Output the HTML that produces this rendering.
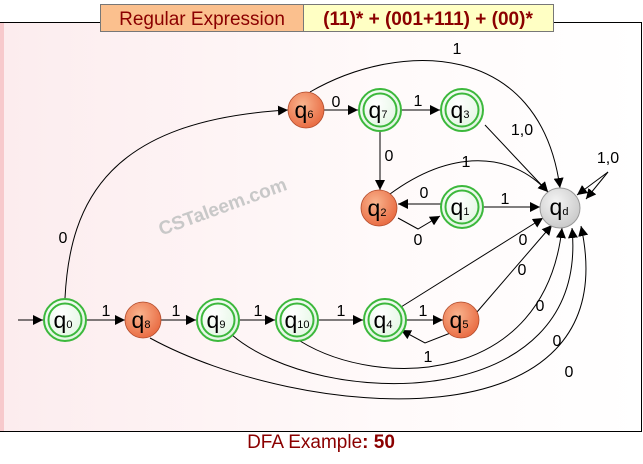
<!DOCTYPE html>
<html><head><meta charset="utf-8"><style>
body{margin:0;width:643px;height:459px;background:#fff;overflow:hidden;font-family:"Liberation Sans",sans-serif}
</style></head><body>
<svg width="643" height="459" viewBox="0 0 643 459" xmlns="http://www.w3.org/2000/svg" font-family="Liberation Sans, sans-serif">
<defs>
<linearGradient id="bg" x1="0" x2="1" y1="0" y2="0">
<stop offset="0" stop-color="#fcecee"/><stop offset="0.6" stop-color="#fffafa"/><stop offset="1" stop-color="#ffffff"/></linearGradient>
<radialGradient id="gr" cx="0.4" cy="0.35" r="0.7"><stop offset="0" stop-color="#ffffff"/><stop offset="1" stop-color="#dff5df"/></radialGradient>
<radialGradient id="or" cx="0.4" cy="0.35" r="0.7"><stop offset="0" stop-color="#f9b48e"/><stop offset="1" stop-color="#e8683f"/></radialGradient>
<radialGradient id="gy" cx="0.4" cy="0.35" r="0.7"><stop offset="0" stop-color="#f4f4f4"/><stop offset="1" stop-color="#c8c8c8"/></radialGradient>
<marker id="a" viewBox="0 0 10 10" refX="10" refY="5" markerWidth="10" markerHeight="10" markerUnits="userSpaceOnUse" orient="auto"><path d="M0,0L10,5L0,10z" fill="#000"/></marker>
</defs>
<rect x="0.5" y="22.5" width="641" height="409" fill="url(#bg)" stroke="#000"/>
<rect x="0" y="23" width="4" height="408" fill="#f7c9cc"/>
<rect x="100.5" y="4.5" width="203" height="27" fill="#fbc08e" stroke="#777"/>
<rect x="303.5" y="4.5" width="250" height="27" fill="#ffffc4" stroke="#777"/>
<text x="202" y="25" text-anchor="middle" font-size="19" fill="#8b0000">Regular Expression</text>
<text x="428" y="25" text-anchor="middle" font-size="19" font-weight="bold" fill="#8b0000">(11)* + (001+111) + (00)*</text>
<text x="222" y="213" text-anchor="middle" font-size="19" font-weight="bold" fill="#c8c8c8" transform="rotate(-20 222 205)">CSTaleem.com</text>
<g fill="none" stroke="#000" stroke-width="1">
<path d="M18,320H43" marker-end="url(#a)"/>
<path d="M87,320H125" marker-end="url(#a)"/>
<path d="M161,320H196" marker-end="url(#a)"/>
<path d="M240,320H275" marker-end="url(#a)"/>
<path d="M319,320H363" marker-end="url(#a)"/>
<path d="M407,320H443" marker-end="url(#a)"/>
<path d="M453,332L425,343L401,330" marker-end="url(#a)"/>
<path d="M65,298C70,200 110,120 288,110" marker-end="url(#a)"/>
<path d="M324,110H358" marker-end="url(#a)"/>
<path d="M402,110H440" marker-end="url(#a)"/>
<path d="M380,132V190" marker-end="url(#a)"/>
<path d="M310,92C400,40 540,40 560,188" marker-end="url(#a)"/>
<path d="M485,125L548,192" marker-end="url(#a)"/>
<path d="M390,194C450,150 510,150 548,192" marker-end="url(#a)"/>
<path d="M441,204H398" marker-end="url(#a)"/>
<path d="M398,218L418,229L440,216" marker-end="url(#a)"/>
<path d="M484,207H540" marker-end="url(#a)"/>
<path d="M608,172L577,195" marker-end="url(#a)"/>
<path d="M608,172L586,199" marker-end="url(#a)"/>
<path d="M401,307L543,218" marker-end="url(#a)"/>
<path d="M477,312L552,225" marker-end="url(#a)"/>
<path d="M300,341C380,390 545,385 562,228" marker-end="url(#a)"/>
<path d="M232,335C320,410 590,415 572,228" marker-end="url(#a)"/>
<path d="M150,338C300,420 630,450 581,226" marker-end="url(#a)"/>
</g>
<g stroke-width="2">
<circle cx="65" cy="320" r="21" fill="url(#gr)" stroke="#3cb83c"/><circle cx="65" cy="320" r="16.5" fill="none" stroke="#3cb83c"/>
<circle cx="218" cy="320" r="21" fill="url(#gr)" stroke="#3cb83c"/><circle cx="218" cy="320" r="16.5" fill="none" stroke="#3cb83c"/>
<circle cx="297" cy="320" r="21" fill="url(#gr)" stroke="#3cb83c"/><circle cx="297" cy="320" r="16.5" fill="none" stroke="#3cb83c"/>
<circle cx="385" cy="320" r="21" fill="url(#gr)" stroke="#3cb83c"/><circle cx="385" cy="320" r="16.5" fill="none" stroke="#3cb83c"/>
<circle cx="380" cy="110" r="21" fill="url(#gr)" stroke="#3cb83c"/><circle cx="380" cy="110" r="16.5" fill="none" stroke="#3cb83c"/>
<circle cx="462" cy="110" r="21" fill="url(#gr)" stroke="#3cb83c"/><circle cx="462" cy="110" r="16.5" fill="none" stroke="#3cb83c"/>
<circle cx="462" cy="207" r="21" fill="url(#gr)" stroke="#3cb83c"/><circle cx="462" cy="207" r="16.5" fill="none" stroke="#3cb83c"/>
</g>
<g stroke="#b04a2a" stroke-width="0.8">
<circle cx="143" cy="320" r="18" fill="url(#or)"/>
<circle cx="461" cy="320" r="18" fill="url(#or)"/>
<circle cx="306" cy="110" r="18" fill="url(#or)"/>
<circle cx="379" cy="208" r="18" fill="url(#or)"/>
</g>
<circle cx="560" cy="208" r="20" fill="url(#gy)" stroke="#999"/>
<g font-size="23" fill="#000" text-anchor="middle">
<text x="63" y="328">q<tspan font-size="11">0</tspan></text>
<text x="141" y="328">q<tspan font-size="11">8</tspan></text>
<text x="216" y="328">q<tspan font-size="11">9</tspan></text>
<text x="297" y="328">q<tspan font-size="11">10</tspan></text>
<text x="383" y="328">q<tspan font-size="11">4</tspan></text>
<text x="459" y="328">q<tspan font-size="11">5</tspan></text>
<text x="304" y="118">q<tspan font-size="11">6</tspan></text>
<text x="378" y="118">q<tspan font-size="11">7</tspan></text>
<text x="460" y="118">q<tspan font-size="11">3</tspan></text>
<text x="377" y="216">q<tspan font-size="11">2</tspan></text>
<text x="460" y="215">q<tspan font-size="11">1</tspan></text>
<text x="559" y="215">q<tspan font-size="11">d</tspan></text>
</g>
<g font-size="16" fill="#000" text-anchor="middle">
<text x="106" y="316">1</text><text x="176" y="316">1</text><text x="258" y="316">1</text>
<text x="341" y="316">1</text><text x="423" y="316">1</text><text x="428" y="362">1</text>
<text x="63" y="243">0</text><text x="336" y="107">0</text><text x="418" y="106">1</text>
<text x="389" y="161">0</text><text x="457" y="54">1</text><text x="522" y="135">1,0</text>
<text x="466" y="167">1</text><text x="424" y="198">0</text><text x="418" y="245">0</text>
<text x="505" y="204">1</text><text x="608" y="163">1,0</text>
<text x="523" y="245">0</text><text x="522" y="275">0</text><text x="540" y="311">0</text>
<text x="557" y="346">0</text><text x="569" y="377">0</text>
</g>
<text x="321" y="448" text-anchor="middle" font-size="19" fill="#8b0000">DFA Example<tspan font-weight="bold">: 50</tspan></text>
</svg>
</body></html>
